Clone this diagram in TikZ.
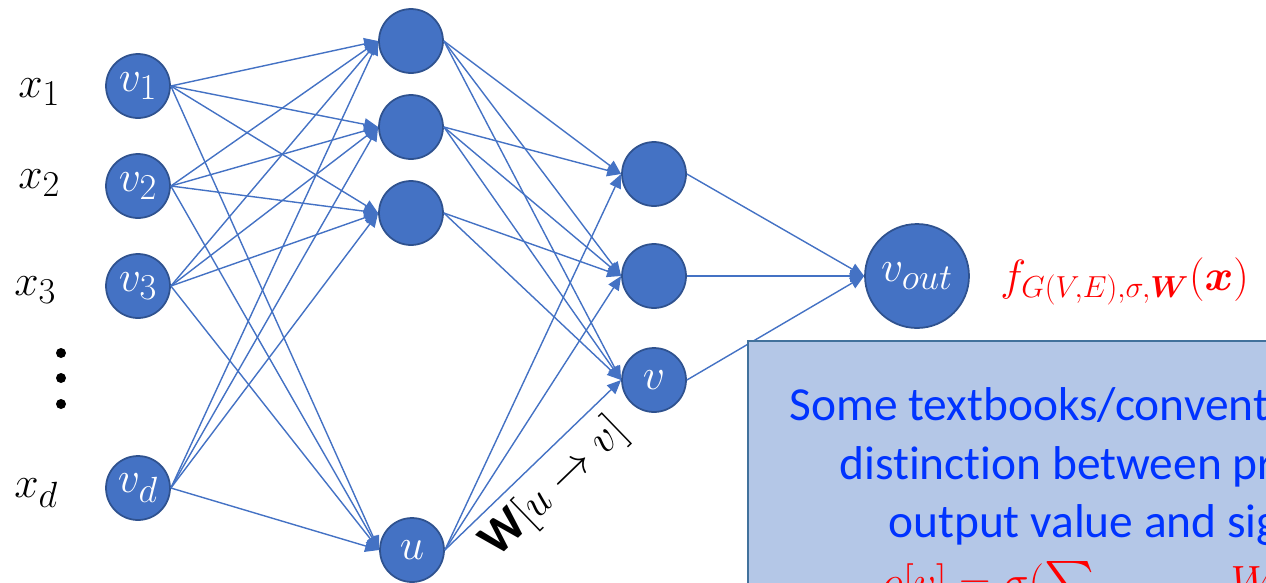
\documentclass[tikz,border=0pt]{standalone}
\usepackage{amsmath,amssymb}
\usepackage{bm}
\usepackage{fontspec}
\setmainfont[Ligatures=NoCommon]{Carlito}
\usetikzlibrary{arrows.meta,positioning}
\definecolor{nodeblue}{HTML}{4472C4}
\definecolor{nodeline}{HTML}{2F528F}
\definecolor{notefill}{HTML}{B4C7E7}
\definecolor{noteline}{HTML}{41719C}
\definecolor{noteblue}{RGB}{0,51,255}

\begin{document}
\begin{tikzpicture}[x=0.02cm, y=-0.02cm,
    neuron/.style={circle, draw=nodeline, line width=1pt, fill=nodeblue,
        text=white, minimum size=1.28cm, inner sep=0pt,
        font=\fontsize{28}{32}\selectfont},
    edge/.style={-{Triangle[length=0.28cm, width=0.24cm]}, nodeblue,
        line width=0.8pt},
    inlabel/.style={anchor=base west, inner sep=0pt,
        font=\fontsize{28}{32}\selectfont},
    notetext/.style={anchor=base west, inner sep=0pt, text=noteblue,
        font=\fontsize{27}{32}\selectfont}
]
    \useasboundingbox (0,0) rectangle (1266,582);
    \clip (0,0) rectangle (1266,582);

    % inputs
    \node[inlabel] (x1) at (18,97) {$x_1$};
    \node[inlabel] (x2) at (18,188) {$x_2$};
    \node[inlabel] (x3) at (14,295) {$x_3$};
    \node[inlabel] (xd) at (14,497) {$x_d$};
    \foreach \y in {353,378,404}
        \fill (61,\y) circle (5);

    \node[neuron] (v1) at (138,86) {$v_1$};
    \node[neuron] (v2) at (138,186) {$v_2$};
    \node[neuron] (v3) at (138,286) {$v_3$};
    \node[neuron] (vd) at (138,488) {$v_d$};

    % hidden layers
    \node[neuron] (h1) at (411,41) {};
    \node[neuron] (h2) at (411,127) {};
    \node[neuron] (h3) at (411,213) {};
    \node[neuron] (u) at (412,550) {$u$};

    \node[neuron] (g1) at (654,174) {};
    \node[neuron] (g2) at (654,276) {};
    \node[neuron] (v) at (654,380) {$v$};

    \node[neuron, minimum size=2.08cm] (out) at (917,276) {$v_{out}$};
    \node[inlabel, text=red, font=\fontsize{26}{30}\selectfont] (fout)
        at (1000,290) {$f_{G(V,E),\sigma,\bm{W}}(\bm{x})$};

    \foreach \s in {v1,v2,v3,vd}
        \foreach \t in {h1,h2,h3,u}
            \draw[edge] (\s.east) -- (\t.west);
    \foreach \s/\t in {h1/g1,h2/g1,u/g1,h1/g2,h2/g2,h3/g2,u/g2,h1/v,h2/v,h3/v}
        \draw[edge] (\s.east) -- (\t.west);
    \draw[edge] (u.east) -- (v.west)
        node[midway, sloped, below=2pt, text=black,
            font=\fontsize{28}{32}\selectfont]
        {\textbf{W}$[u\to v]$};
    \foreach \s in {g1,g2,v}
        \draw[edge] (\s.east) -- (out.west);

    % note box
    \filldraw[fill=notefill, draw=noteline, line width=1.2pt]
        (748,341) rectangle (1300,640);
    \node[notetext] (n1) at (789,420) {Some textbooks/conventio};
    \node[notetext] (n2) at (839,479) {distinction between pr};
    \node[notetext] (n3) at (888,537) {output value and sig};
    \node[notetext, text=red] (n4) at (882,596)
        {$o[v]=\sigma(\sum_{(u\to v)\in E} W$};
\end{tikzpicture}
\end{document}
